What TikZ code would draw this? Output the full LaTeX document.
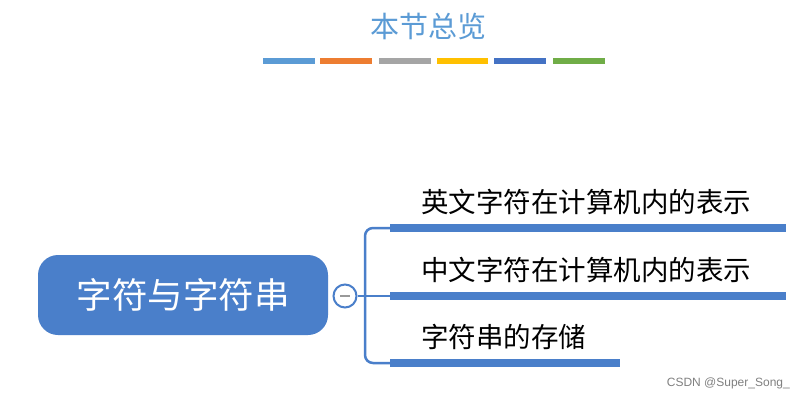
\documentclass[tikz,border=0pt]{standalone}
\usepackage{fontspec}
\setmainfont{Noto Sans CJK SC}
\newfontfamily\wmfont{Liberation Sans}
\definecolor{mainblue}{HTML}{4A7FCA}
\definecolor{titleblue}{HTML}{5B9BD5}
\definecolor{cA}{HTML}{5B9BD5}
\definecolor{cB}{HTML}{ED7D31}
\definecolor{cC}{HTML}{A5A5A5}
\definecolor{cD}{HTML}{FFC000}
\definecolor{cE}{HTML}{4472C4}
\definecolor{cF}{HTML}{70AD47}
\tikzset{
  colorbar/.style={line width=6pt},
  branchtext/.style={anchor=west, inner sep=0pt, font=\fontsize{27.5}{31}\selectfont, text=black},
  thinline/.style={draw=mainblue, line width=2.5pt},
  thickbar/.style={draw=mainblue, line width=8pt},
}
\begin{document}
\begin{tikzpicture}[x=1pt,y=-1pt]
\useasboundingbox[fill=white] (0,0) rectangle (805,401);
% title
\node[text=titleblue, font=\fontsize{29}{32}\selectfont] (title) at (428,26) {本节总览};
% color bars
\foreach \c/\a/\b [count=\i] in {cA/263/315, cB/320/372, cC/379/431, cD/437/488, cE/494/546, cF/553/605}{
  \draw[colorbar, draw=\c] (\a,61) -- (\b,61);
}
% main node
\node[fill=mainblue, rounded corners=20pt, minimum width=290pt, minimum height=80pt, inner sep=0pt,
      text=white, font=\fontsize{35.5}{38}\selectfont] (main) at (183,295) {字符与字符串};
% collapse circle
\node[circle, draw=mainblue, fill=white, line width=2pt, minimum size=23pt, inner sep=0pt] (col) at (345,296) {};
\draw[draw=gray!80, line width=2pt] ([xshift=-5pt]col.center) -- ([xshift=5pt]col.center);
\coordinate (j) at (365,296);
\draw[thinline] (col.east) -- (j);
% branch endpoints
\coordinate (b1) at (390,228);
\coordinate (b2) at (390,296);
\coordinate (b3) at (390,363);
\coordinate (e1) at (786,228);
\coordinate (e2) at (786,296);
\coordinate (e3) at (620,363);
\draw[thinline, rounded corners=8pt] (b1) -- (365,228) -- (365,363) -- (b3);
\draw[thinline] (j) -- (b2);
\draw[thickbar] (b1) -- (e1);
\draw[thickbar] (b2) -- (e2);
\draw[thickbar] (b3) -- (e3);
% branch texts
\node[branchtext] (t1) at (421,202) {英文字符在计算机内的表示};
\node[branchtext] (t2) at (421,270) {中文字符在计算机内的表示};
\node[branchtext] (t3) at (421,337) {字符串的存储};
% watermark
\node[anchor=east, text=gray, font=\wmfont\fontsize{12}{14}\selectfont, inner sep=0pt] (wm) at (790,383) {CSDN @Super\_Song\_};
\end{tikzpicture}
\end{document}
